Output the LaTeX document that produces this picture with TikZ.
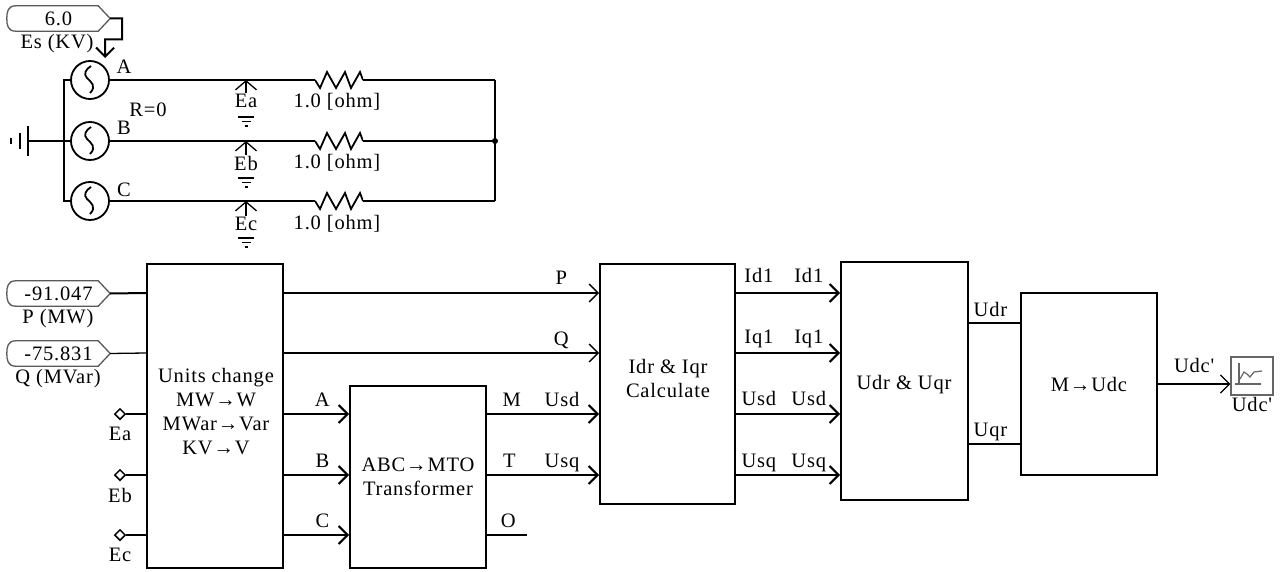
\documentclass[tikz,border=0pt]{standalone}
\usepackage{fontspec}
\setmainfont{Liberation Serif}[LetterSpace=4,Ligatures=TeXOff]
\usetikzlibrary{arrows.meta,calc,positioning,shapes.geometric}

\tikzset{
  >={Straight Barb[length=9pt,width=18pt]},
  wire/.style={line width=2pt},
  thinwire/.style={line width=1.3pt},
  block/.style={draw,line width=2pt,inner sep=0pt,align=center},
  txt/.style={inner sep=1pt,align=center},
  lab/.style={inner sep=1pt,text height=13pt,text depth=4pt},
  valtext/.style={inner sep=0pt,minimum width=103pt,minimum height=25pt},
  source/.style={circle,draw,line width=1.8pt,minimum size=38pt,inner sep=0pt,path picture={
    \draw[line width=1.8pt,shift={(path picture bounding box.center)}]
      (1,-14) .. controls (-4,-11) and (-7,-6) .. (-3,-2) .. controls (1,2) and (7,6) .. (0,13);}},
  resistor/.style={inner sep=0pt,minimum width=48pt,minimum height=22pt,path picture={
    \draw[line width=1.8pt,shift={(path picture bounding box.center)}]
      (-24,0) -- (-19,8) -- (-12,-8) -- (-3,8) -- (6,-8) -- (12,8) -- (21,-8) -- (24,0);}},
  terminal/.style={diamond,draw,line width=1.5pt,minimum size=11pt,inner sep=0pt},
  scope view/.style={draw=black!60,line width=1.2pt,inner sep=0pt,minimum width=42pt,minimum height=38pt,path picture={
    \draw[line width=1.8pt,shift={(path picture bounding box.center)}]
      (-17,8) -- (9,8) (-13,-13) -- (-13,8);
    \draw[line width=1.2pt,shift={(path picture bounding box.center)}]
      (-12,3) -- (-8,-4) -- (-5,-2) -- (-2,1) -- (2,-4) -- (10,-5);}},
  gnd/.pic={
    \draw[line width=1.8pt] (-8,0) -- (8,0) (-4.5,4.5) -- (4.5,4.5) (-1.5,9) -- (1.5,9);}
}

% pointed value box, the text node carries the name
\newcommand{\valbox}[3]{
  \node[valtext] (#1) at (#2) {#3};
  \draw[black!65,line width=1.3pt] ($(#1.north east)+(-12,0)$) -- (#1.east) -- ($(#1.south east)+(-12,0)$)
    -- ($(#1.south west)+(9,0)$) .. controls ($(#1.south west)+(1,0)$) and ($(#1.south west)+(0,-6)$) .. (#1.west)
    .. controls ($(#1.north west)+(0,6)$) and ($(#1.north west)+(1,0)$) .. ($(#1.north west)+(9,0)$) -- cycle;
}

\begin{document}
\begin{tikzpicture}[x=1pt,y=-1pt,font=\fontsize{20.5}{24}\selectfont]
  \useasboundingbox (0,0) rectangle (1285,572);

  % three phase source
  \valbox{es}{58.5,18.5}{6.0}
  \node[txt] (eslabel) at (57,44) {Es (KV)};
  \node[source] (sa) at (90,80) {};
  \node[source] (sb) at (90,141) {};
  \node[source] (sc) at (90,201) {};
  \node[txt] (la) at (124,67) {A};
  \node[txt] (lb) at (124,128) {B};
  \node[txt] (lc) at (124,190) {C};
  \node[txt] (rzero) at (148,110) {R=0};
  \node[resistor] (ra) at (339,80) {};
  \node[resistor] (rb) at (339,141) {};
  \node[resistor] (rc) at (339,201) {};
  \node[txt] (ola) at (337,102) {1.0 [ohm]};
  \node[txt] (olb) at (337,163) {1.0 [ohm]};
  \node[txt] (olc) at (337,224) {1.0 [ohm]};
  \node[txt] (ea) at (246,101) {Ea};
  \node[txt] (eb) at (246,163) {Eb};
  \node[txt] (ec) at (246,224) {Ec};
  \coordinate (ein) at (105,58);
  \coordinate (ma) at (246,80);
  \coordinate (mb) at (246,141);
  \coordinate (mc) at (246,201);
  \coordinate (ja) at (495,80);
  \coordinate (jb) at (495,141);
  \coordinate (jc) at (495,201);
  \coordinate (busa) at (64,80);
  \coordinate (busc) at (64,201);
  \coordinate (earth) at (28,141);
  \pic at (246,117) {gnd};
  \pic at (246,178) {gnd};
  \pic at (246,238) {gnd};
  \pic[rotate=-90,scale=1.85] at (28,141) {gnd};
  \draw[wire,->] (es.east) -- ++(12,0) -- ++(0,21) -- ++(-17,0) -- (ein);
  \draw[wire] (sa.west) -- (busa) -- (busc) -- (sc.west);
  \draw[wire] (earth) -- (sb.west);
  \draw[wire] (sa.east) -- (ra.west) (ra.east) -- (ja);
  \draw[wire] (sb.east) -- (rb.west) (rb.east) -- (jb);
  \draw[wire] (sc.east) -- (rc.west) (rc.east) -- (jc);
  \draw[wire] (ja) -- (jc);
  \fill (jb) circle (3);
  \draw[thinwire,->,>={Straight Barb[length=9pt,width=21pt]}] (ea.north) -- (ma);
  \draw[thinwire,->,>={Straight Barb[length=9pt,width=21pt]}] (eb.north) -- (mb);
  \draw[thinwire,->,>={Straight Barb[length=9pt,width=21pt]}] (ec.north) -- (mc);

  % blocks
  \node[block,minimum width=136pt,minimum height=304pt] (unit) at (215,416) {};
  \node[txt] (unittxt) at (216,412) {Units change\\MW→W\\MWar→Var\\KV→V};
  \node[block,minimum width=136pt,minimum height=182pt] (abc) at (418,477) {ABC→MTO\\Transformer};
  \node[block,minimum width=135pt,minimum height=240pt] (idr) at (667.5,384) {};
  \node[txt] (idrtxt) at (668,378) {Idr \& Iqr\\Calculate};
  \node[block,minimum width=127pt,minimum height=238pt] (udr) at (904.5,381) {};
  \node[txt] (udrtxt) at (904,385) {Udr \& Uqr};
  \node[block,minimum width=136pt,minimum height=182pt] (mdc) at (1089,384) {M→Udc};
  \node[scope view] (graph) at (1252,376) {};
  \node[txt] (graphlabel) [below=0pt of graph] {Udc'};

  % rows of the signals
  \coordinate (rp) at (0,293);
  \coordinate (rq) at (0,353);
  \coordinate (ra1) at (0,414);
  \coordinate (rb1) at (0,475);
  \coordinate (rc1) at (0,535);
  \coordinate (rud) at (0,323);
  \coordinate (ruq) at (0,444);
  \coordinate (rdc) at (0,384);
  \coordinate (oend) at (527,535);

  % inputs
  \valbox{pv}{58.5,293.5}{-91.047}
  \valbox{qv}{58.5,353.5}{-75.831}
  \node[txt] (plabel) at (58,319) {P (MW)};
  \node[txt] (qlabel) at (58,379) {Q (MVar)};
  \node[terminal] (ta) at (120,414) {};
  \node[terminal] (tb) at (120,475) {};
  \node[terminal] (tc) at (120,535) {};
  \node[txt] (tal) at (120,434) {Ea};
  \node[txt] (tbl) at (120,495) {Eb};
  \node[txt] (tcl) at (120,555) {Ec};
  \draw[wire] (pv.east) -- (unit.west |- rp);
  \draw[thinwire] (qv.east) -- (unit.west |- rq);
  \draw[wire] (ta) -- (unit.west |- ra1);
  \draw[wire] (tb) -- (unit.west |- rb1);
  \draw[wire] (tc) -- (unit.west |- rc1);

  \path[->,thinwire]
    (unit.east |- rp) edge node[lab,above=3pt,pos=.88] (lp) {P} (idr.west |- rp)
    (unit.east |- rq) edge node[lab,above=2pt,pos=.88] (lq) {Q} (idr.west |- rq);
  \path[->,wire]
    (unit.east |- ra1) edge node[lab,above=2pt,pos=.59] (ula) {A} (abc.west |- ra1)
    (unit.east |- rb1) edge node[lab,above=2pt,pos=.59] (ulb) {B} (abc.west |- rb1)
    (unit.east |- rc1) edge node[lab,above=2pt,pos=.59] (ulc) {C} (abc.west |- rc1)
    (abc.east |- ra1) edge node[lab,above=2pt,pos=.22] (lm) {M} node[lab,above=2pt,pos=.67] (lusd) {Usd} (idr.west |- ra1)
    (abc.east |- rb1) edge node[lab,above=2pt,pos=.2] (lt) {T} node[lab,above=2pt,pos=.67] (lusq) {Usq} (idr.west |- rb1)
    (idr.east |- rp) edge node[lab,above=5pt,pos=.22] (lid) {Id1} node[lab,above=5pt,pos=.7] (lidb) {Id1} (udr.west |- rp)
    (idr.east |- rq) edge node[lab,above=4pt,pos=.22] (liq) {Iq1} node[lab,above=4pt,pos=.7] (liqb) {Iq1} (udr.west |- rq)
    (idr.east |- ra1) edge node[lab,above=3pt,pos=.22] (lud) {Usd} node[lab,above=3pt,pos=.7] (ludb) {Usd} (udr.west |- ra1)
    (idr.east |- rb1) edge node[lab,above=2pt,pos=.22] (luq) {Usq} node[lab,above=2pt,pos=.7] (luqb) {Usq} (udr.west |- rb1);
  \draw[wire] (abc.east |- rc1) -- node[lab,above=2pt,pos=.53] (lo) {O} (oend);
  \draw[wire] (udr.east |- rud) -- node[lab,above=1pt,pos=.42] (ludr) {Udr} (mdc.west |- rud);
  \draw[wire] (udr.east |- ruq) -- node[lab,above=2pt,pos=.42] (luqr) {Uqr} (mdc.west |- ruq);
  \draw[thinwire,->] (mdc.east |- rdc) -- node[lab,above=6pt,pos=.5] (ludc) {Udc'} (graph.west |- rdc);
\end{tikzpicture}
\end{document}
